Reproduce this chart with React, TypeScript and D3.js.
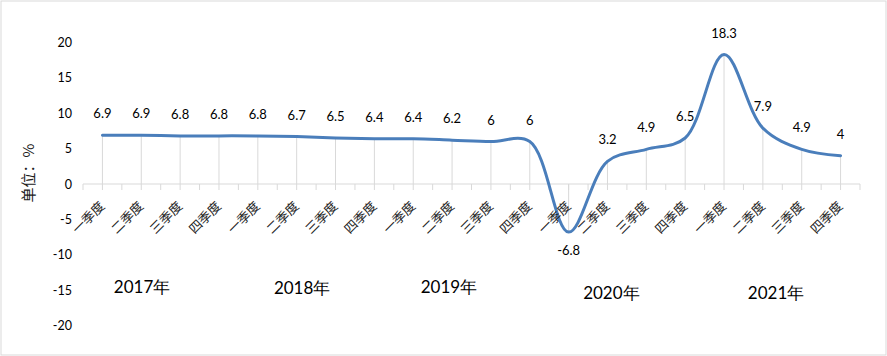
import React from "react";
import * as d3 from "d3";

const quarters = ["一季度", "二季度", "三季度", "四季度"];
const years = ["2017年", "2018年", "2019年", "2020年", "2021年"];
const values = [6.9, 6.9, 6.8, 6.8, 6.8, 6.7, 6.5, 6.4, 6.4, 6.2, 6, 6, -6.8, 3.2, 4.9, 6.5, 18.3, 7.9, 4.9, 4];
const yTicks = [-20, -15, -10, -5, 0, 5, 10, 15, 20];
// layout of the year captions (fractional category position, vertical centre)
const yearLabelPos = [1.52, 5.64, 9.42, 13.6, 17.84];
const yearLabelY = [286, 287, 286, 292, 292];

const W = 887;
const H = 356;

export default function App() {
  const categories = values.map((_, i) => `${years[Math.floor(i / 4)]}-${quarters[i % 4]}`);
  const x = d3.scaleBand<string>().domain(categories).range([83, 860]).padding(0);
  const bw = x.bandwidth();
  const cx = (i: number) => (x(categories[i]) as number) + bw / 2;
  const y = d3.scaleLinear().domain([-20, 20]).range([325.5, 42.5]);
  const y0 = y(0);

  const line = d3
    .line<number>()
    .x((_, i) => cx(i))
    .y((d) => y(d))
    .curve(d3.curveCatmullRom.alpha(0.5));

  const fontNum = "Lato, Carlito, 'Noto Sans', sans-serif";
  const fontCJK = "'Noto Sans CJK SC', sans-serif";

  const boundaries = d3.range(categories.length + 1).map((i) => 83 + i * bw);

  return (
    <svg
      width={W}
      height={H}
      style={{ position: "absolute", left: 0, top: 0, background: "#fff" }}
    >
      <rect x={1} y={1} width={885} height={354} fill="#fff" stroke="#D9D9D9" strokeWidth={1} />

      {/* y tick labels */}
      {yTicks.map((t) => (
        <text
          key={t}
          x={72}
          y={y(t)}
          textAnchor="end"
          dominantBaseline="central"
          fontFamily={fontNum}
          fontSize={12.5}
          fill="#000"
        >
          {t}
        </text>
      ))}

      {/* y axis title */}
      <text
        transform={`translate(27,173) rotate(-90)`}
        textAnchor="middle"
        dominantBaseline="central"
        fontFamily={fontCJK}
        fontSize={15}
        fill="#222"
      >
        单位：%
      </text>

      {/* drop lines */}
      {values.map((v, i) => (
        <line key={`d${i}`} x1={cx(i)} x2={cx(i)} y1={y0} y2={y(v)} stroke="#D9D9D9" strokeWidth={1} />
      ))}

      {/* category axis */}
      <line x1={83} x2={860} y1={y0} y2={y0} stroke="#D9D9D9" strokeWidth={1} />
      {boundaries.map((b, i) => (
        <line key={`tb${i}`} x1={b} x2={b} y1={y0} y2={y0 + 6} stroke="#D9D9D9" strokeWidth={1} />
      ))}
      {values.map((_, i) => (
        <line key={`tc${i}`} x1={cx(i)} x2={cx(i)} y1={y0} y2={y0 + 6} stroke="#D9D9D9" strokeWidth={1} />
      ))}

      {/* series line */}
      <path d={line(values) || ""} fill="none" stroke="#4A7EBB" strokeWidth={3} strokeLinecap="round" />

      {/* data labels */}
      {values.map((v, i) => (
        <text
          key={`l${i}`}
          x={cx(i)}
          y={v >= 0 ? y(v) - 22 : y(v) + 18}
          textAnchor="middle"
          dominantBaseline="central"
          fontFamily={fontNum}
          fontSize={13}
          fill="#000"
        >
          {v}
        </text>
      ))}

      {/* quarter labels */}
      {values.map((_, i) => (
        <text
          key={`q${i}`}
          transform={`translate(${cx(i) + 3},207) rotate(-45)`}
          textAnchor="end"
          fontFamily={fontCJK}
          fontSize={13}
          fill="#222"
        >
          {quarters[i % 4]}
        </text>
      ))}

      {/* year labels */}
      {years.map((yr, k) => (
        <text
          key={yr}
          x={83 + yearLabelPos[k] * bw}
          y={yearLabelY[k]}
          textAnchor="middle"
          dominantBaseline="central"
          fontFamily={fontNum}
          fontSize={17}
          fill="#000"
        >
          {yr}
        </text>
      ))}
    </svg>
  );
}
